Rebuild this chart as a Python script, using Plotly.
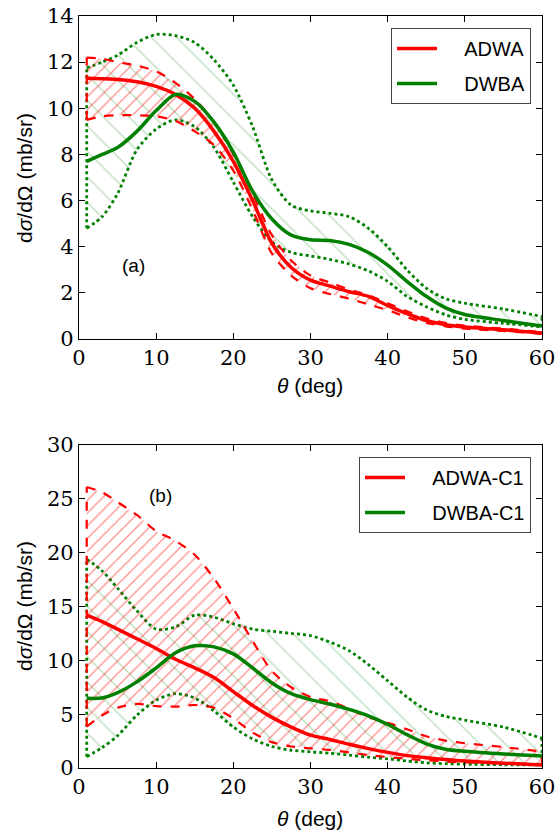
import plotly.graph_objects as go

# ---------------- data ----------------
theta = [1, 3, 5, 7.5, 10, 12.5, 15, 17.5, 20, 22.5, 25, 27.5, 30, 32.5, 35,
         37.5, 40, 42.5, 45, 47.5, 50, 55, 60]

# panel (a)
adwa = [11.3, 11.28, 11.25, 11.15, 10.95, 10.6, 10.0, 9.0, 7.7, 6.0, 4.15, 3.1,
        2.55, 2.3, 2.05, 1.85, 1.45, 1.1, 0.8, 0.62, 0.52, 0.4, 0.26]
adwa_hi = [12.2, 12.15, 12.0, 11.85, 11.6, 11.1, 10.4, 9.4, 8.0, 6.3, 4.5, 3.4,
           2.75, 2.45, 2.15, 1.9, 1.55, 1.2, 0.9, 0.7, 0.58, 0.45, 0.3]
adwa_lo = [9.5, 9.65, 9.7, 9.7, 9.65, 9.45, 9.0, 8.4, 7.3, 5.6, 3.7, 2.75,
           2.2, 1.95, 1.75, 1.5, 1.25, 0.95, 0.7, 0.55, 0.45, 0.35, 0.22]
dwba = [7.7, 8.0, 8.3, 9.0, 9.9, 10.6, 10.3, 9.4, 8.1, 6.4, 5.2, 4.5,
        4.3, 4.27, 4.1, 3.75, 3.2, 2.5, 1.85, 1.35, 1.06, 0.8, 0.56]
dwba_hi = [11.75, 12.0, 12.3, 12.85, 13.2, 13.15, 12.85, 12.1, 11.0, 9.2, 6.9, 5.8,
           5.55, 5.45, 5.3, 4.8, 4.0, 3.0, 2.2, 1.75, 1.55, 1.3, 0.97]
dwba_lo = [4.8, 5.3, 6.3, 8.2, 9.1, 9.5, 9.2, 8.3, 6.8, 5.3, 4.2, 3.75,
           3.6, 3.45, 3.25, 2.95, 2.5, 1.85, 1.4, 1.05, 0.85, 0.68, 0.53]

# panel (b)
adwa_c1 = [14.2, 13.6, 12.9, 12.0, 11.1, 10.1, 9.3, 8.4, 7.1, 5.8, 4.7, 3.8,
           3.05, 2.65, 2.2, 1.8, 1.45, 1.15, 0.95, 0.78, 0.65, 0.45, 0.28]
adwa_c1_hi = [26.1, 25.6, 24.7, 23.5, 22.0, 21.1, 19.8, 17.6, 14.8, 11.8, 9.0, 7.5,
              6.6, 6.2, 5.5, 4.7, 4.2, 3.6, 2.95, 2.55, 2.3, 1.95, 1.52]
adwa_c1_lo = [3.84, 4.9, 5.6, 5.95, 5.75, 5.7, 5.85, 5.6, 4.6, 3.3, 2.4, 2.0,
              1.83, 1.68, 1.45, 1.2, 1.02, 0.85, 0.72, 0.6, 0.52, 0.42, 0.34]
dwba_c1 = [6.47, 6.5, 7.0, 8.0, 9.3, 10.7, 11.35, 11.25, 10.6, 9.3, 7.9, 6.9,
           6.35, 5.95, 5.45, 4.85, 4.05, 3.1, 2.25, 1.75, 1.55, 1.3, 1.11]
dwba_c1_hi = [19.4, 18.3, 16.7, 14.6, 12.9, 13.1, 14.2, 14.0, 13.4, 12.9, 12.7, 12.5,
              12.3, 11.7, 10.9, 9.6, 8.1, 6.6, 5.4, 4.8, 4.45, 3.8, 2.76]
dwba_c1_lo = [1.05, 1.9, 3.0, 4.9, 6.3, 6.9, 6.5, 5.3, 3.8, 2.7, 2.0, 1.65,
              1.5, 1.38, 1.2, 1.0, 0.85, 0.65, 0.48, 0.4, 0.35, 0.3, 0.28]

x_ticks = [0, 10, 20, 30, 40, 50, 60]
y_ticks_a = [0, 2, 4, 6, 8, 10, 12, 14]
y_ticks_b = [0, 5, 10, 15, 20, 25, 30]

RED = "#ff0000"
GREEN = "#008000"

fig = go.Figure()


def band(xa, ya, hi, lo, color, pat_color, shape, size, solidity, dash, width):
    # hatched fill
    fig.add_trace(go.Scatter(
        x=theta + theta[::-1], y=hi + lo[::-1], xaxis=xa, yaxis=ya,
        mode="lines", line=dict(width=0, color=color), fill="toself",
        fillcolor="rgba(0,0,0,0)",
        fillpattern=dict(shape=shape, size=size, solidity=solidity,
                         fgcolor=pat_color, bgcolor="rgba(0,0,0,0)",
                         fillmode="overlay"),
        showlegend=False, hoverinfo="skip"))
    for arr in (hi, lo):
        fig.add_trace(go.Scatter(
            x=theta, y=arr, xaxis=xa, yaxis=ya, mode="lines",
            line=dict(color=color, width=width, dash=dash, shape="spline", smoothing=0.8),
            showlegend=False, hoverinfo="skip"))
    for i in (0, -1):
        fig.add_trace(go.Scatter(
            x=[theta[i], theta[i]], y=[lo[i], hi[i]], xaxis=xa, yaxis=ya,
            mode="lines", line=dict(color=color, width=width, dash=dash),
            showlegend=False, hoverinfo="skip"))


PAD = "\u00a0\u00a0\u00a0\u00a0"

# panel (a)
band("x", "y", dwba_hi, dwba_lo, GREEN, "rgba(0,128,0,0.55)", "\\", 18, 0.07, "dot", 2.8)
band("x", "y", adwa_hi, adwa_lo, RED, "rgba(255,0,0,0.9)", "/", 9, 0.14, "dash", 2.2)
fig.add_trace(go.Scatter(x=theta, y=adwa, xaxis="x", yaxis="y", mode="lines",
                         line=dict(color=RED, width=3.5, shape="spline", smoothing=0.8),
                         name=PAD + "ADWA", legend="legend", legendgroup="a1"))
fig.add_trace(go.Scatter(x=theta, y=dwba, xaxis="x", yaxis="y", mode="lines",
                         line=dict(color=GREEN, width=3.5, shape="spline", smoothing=0.8),
                         name=PAD + "DWBA", legend="legend", legendgroup="a2"))

# panel (b)
band("x2", "y2", dwba_c1_hi, dwba_c1_lo, GREEN, "rgba(0,128,0,0.55)", "\\", 18, 0.07, "dot", 2.8)
band("x2", "y2", adwa_c1_hi, adwa_c1_lo, RED, "rgba(255,0,0,0.9)", "/", 9, 0.14, "dash", 2.2)
fig.add_trace(go.Scatter(x=theta, y=adwa_c1, xaxis="x2", yaxis="y2", mode="lines",
                         line=dict(color=RED, width=3.5, shape="spline", smoothing=0.8),
                         name=PAD + "ADWA-C1", legend="legend2", legendgroup="b1"))
fig.add_trace(go.Scatter(x=theta, y=dwba_c1, xaxis="x2", yaxis="y2", mode="lines",
                         line=dict(color=GREEN, width=3.5, shape="spline", smoothing=0.8),
                         name=PAD + "DWBA-C1", legend="legend2", legendgroup="b2"))

W, H = 557, 832
xdom = [79 / W, 542 / W]
ydom_a = [1 - 339 / H, 1 - 16 / H]
ydom_b = [1 - 768 / H, 1 - 445 / H]

tickfont = dict(family="DejaVu Serif", size=21, color="black")
axis_common = dict(showline=True, linecolor="black", linewidth=1.2, mirror="ticks",
                   ticks="inside", ticklen=6, tickcolor="black", tickwidth=1,
                   showgrid=False, zeroline=False, tickfont=tickfont, automargin=False)

legend_common = dict(xanchor="right", yanchor="top",
                     bordercolor="#444", borderwidth=1, bgcolor="white",
                     font=dict(family="Liberation Sans", size=20, color="black"),
                     tracegroupgap=6, itemwidth=40)

fig.update_layout(
    width=W, height=H, margin=dict(l=0, r=0, t=0, b=0, autoexpand=False),
    plot_bgcolor="white", paper_bgcolor="white",
    xaxis=dict(domain=xdom, range=[0, 60], tickvals=x_ticks, anchor="y", **axis_common),
    yaxis=dict(domain=ydom_a, range=[0, 14], tickvals=y_ticks_a, anchor="x", **axis_common),
    xaxis2=dict(domain=xdom, range=[0, 60], tickvals=x_ticks, anchor="y2", **axis_common),
    yaxis2=dict(domain=ydom_b, range=[0, 30], tickvals=y_ticks_b, anchor="x2", **axis_common),
    legend=dict(x=531 / W, y=1 - 28 / H, **legend_common),
    legend2=dict(x=531 / W, y=1 - 457 / H, **legend_common),
    showlegend=True,
)

title_font = dict(family="Liberation Sans", size=21, color="black")
annots = [
    dict(text="<i>θ</i> (deg)", x=310 / W, y=1 - 385 / H),
    dict(text="<i>θ</i> (deg)", x=310 / W, y=1 - 818 / H),
    dict(text="d<i>σ</i>/dΩ (mb/sr)", x=24 / W, y=1 - 178 / H, textangle=-90),
    dict(text="d<i>σ</i>/dΩ (mb/sr)", x=24 / W, y=1 - 606 / H, textangle=-90),
]
for a in annots:
    fig.add_annotation(xref="paper", yref="paper", showarrow=False,
                       xanchor="center", yanchor="middle", font=title_font, **a)

fig.add_annotation(xref="x", yref="y", x=7.0, y=3.2, text="(a)", showarrow=False,
                   font=dict(family="Liberation Sans", size=19, color="black"))
fig.add_annotation(xref="x2", yref="y2", x=10.5, y=25.3, text="(b)", showarrow=False,
                   font=dict(family="Liberation Sans", size=19, color="black"))

fig.write_html("out.html", config={"displayModeBar": False},
               post_script="document.body.style.margin='0';document.body.style.overflow='hidden';")
